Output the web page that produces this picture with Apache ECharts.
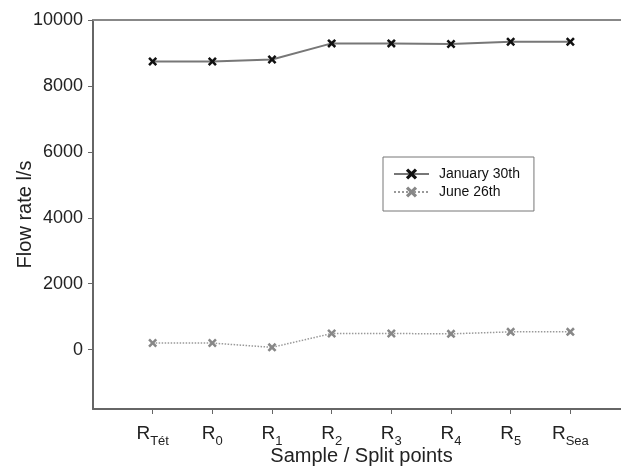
<!DOCTYPE html>
<html>
<head>
<meta charset="utf-8">
<script src="https://cdn.jsdelivr.net/npm/echarts@6/dist/echarts.min.js"></script>
<style>html,body{margin:0;padding:0;background:#fff;}#c{width:621px;height:467px;}</style>
</head>
<body>
<div id="c"></div>
<script>
var categories = ["Tét", "0", "1", "2", "3", "4", "5", "Sea"];
var january = [8740, 8740, 8800, 9290, 9290, 9270, 9340, 9340];
var june = [200, 200, 70, 490, 490, 480, 540, 540];
var yTicks = [0, 2000, 4000, 6000, 8000, 10000];
var seriesNames = ["January 30th", "June 26th"];

var xIdx = categories.map(function (c, i) { return i; });
function pairs(arr) { return arr.map(function (v, i) { return [i, v]; }); }
var crossPath = 'path://M0,2L2,0L5,3L8,0L10,2L7,5L10,8L8,10L5,7L2,10L0,8L3,5Z';
var font = 'Liberation Sans, Arial, sans-serif';

var chart = echarts.init(document.getElementById('c'), null, {renderer: 'canvas'});
chart.setOption({
  animation: false,
  backgroundColor: '#fff',
  textStyle: {fontFamily: font},
  grid: {left: 93, top: 20, right: -9, bottom: 58, outerBoundsMode: 'none', containLabel: false},
  legend: {
    left: 383, top: 157, orient: 'vertical',
    borderColor: '#777', borderWidth: 1,
    padding: [10, 14, 12, 10], itemGap: 4,
    itemWidth: 35, itemHeight: 14,
    textStyle: {fontSize: 14, color: '#111', fontFamily: font, padding: [0, 0, 0, 5]},
    data: seriesNames
  },
  xAxis: [{
    type: 'value', min: -1, max: 8, interval: 1,
    splitLine: {show: false},
    axisLine: {onZero: false, lineStyle: {color: '#666', width: 2}},
    axisTick: {show: true, length: 5, customValues: xIdx, lineStyle: {color: '#666', width: 1}},
    axisLabel: {
      customValues: xIdx, margin: 10,
      formatter: function (v) { return '{r|R}{s|' + categories[Math.round(v)] + '}'; },
      rich: {
        r: {fontSize: 19, color: '#222', fontFamily: font, verticalAlign: 'bottom', lineHeight: 24},
        s: {fontSize: 13, color: '#222', fontFamily: font, verticalAlign: 'bottom', lineHeight: 24, padding: [0, 0, -5, 0]}
      }
    },
    name: 'Sample / Split points', nameLocation: 'middle', nameGap: 37, nameMoveOverlap: false,
    nameTextStyle: {fontSize: 20, color: '#222', fontFamily: font}
  }, {
    type: 'value', position: 'top', min: -1, max: 8,
    axisLine: {show: true, onZero: false, lineStyle: {color: '#888', width: 2}},
    axisTick: {show: false}, axisLabel: {show: false}, splitLine: {show: false}
  }],
  yAxis: {
    type: 'value', min: -1800, max: 10000,
    splitLine: {show: false},
    axisLine: {show: true, onZero: false, lineStyle: {color: '#666', width: 2}},
    axisTick: {show: true, length: 5, customValues: yTicks, lineStyle: {color: '#666', width: 1}},
    axisLabel: {customValues: yTicks, fontSize: 18, color: '#222', margin: 10, fontFamily: font,
      formatter: function (v) { return String(v); }},
    name: 'Flow rate l/s', nameLocation: 'middle', nameGap: 58, nameMoveOverlap: false,
    nameTextStyle: {fontSize: 20, color: '#222', fontFamily: font}
  },
  series: [{
    name: seriesNames[0], type: 'line', data: pairs(january),
    symbol: crossPath, symbolSize: 9,
    itemStyle: {color: '#111'},
    lineStyle: {color: '#777', width: 2, type: 'solid'}
  }, {
    name: seriesNames[1], type: 'line', data: pairs(june),
    symbol: crossPath, symbolSize: 9,
    itemStyle: {color: '#888'},
    lineStyle: {color: '#999', width: 1.5, type: 'dotted'}
  }]
});
</script>
</body>
</html>
